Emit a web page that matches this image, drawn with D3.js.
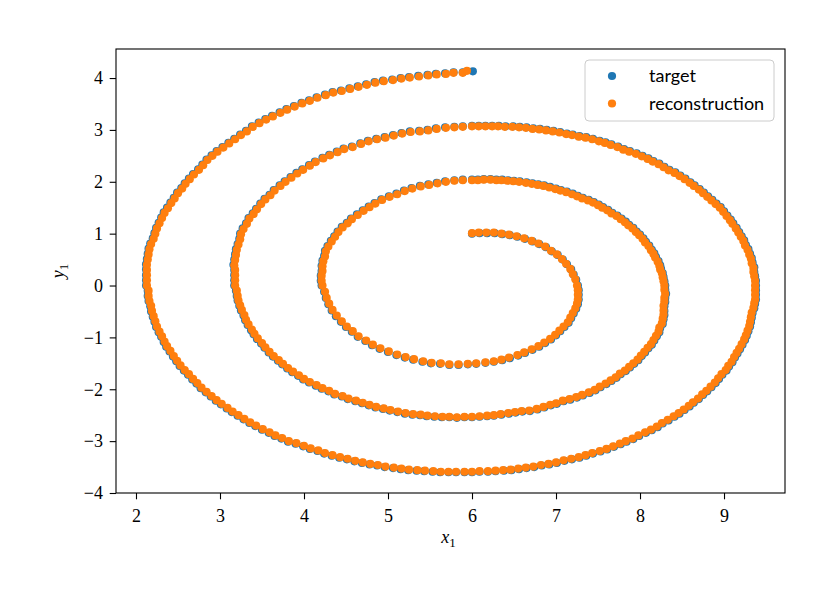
<!DOCTYPE html>
<html>
<head>
<meta charset="utf-8">
<script src="https://cdn.jsdelivr.net/npm/d3@7"></script>
<style>
  body { margin: 0; background: #fff; }
</style>
</head>
<body>
<div id="chart"></div>
<script>
const xTicks = [2, 3, 4, 5, 6, 7, 8, 9];
const yTicks = [-4, -3, -2, -1, 0, 1, 2, 3, 4];
const seriesNames = ["target", "reconstruction"];
const seriesColors = ["#1f77b4", "#ff7f0e"];
const xDomain = [1.762, 9.726];
const yDomain = [-4, 4.56];

// target trajectory, [x1, y1]
const target = [
  [6.00,1.00],[6.09,1.01],[6.18,1.01],[6.27,1.01],[6.36,0.99],[6.45,0.97],[6.54,0.94],[6.63,0.90],[6.72,0.85],[6.80,0.80],[6.88,0.74],[6.95,0.66],[7.02,0.59],[7.08,0.50],[7.13,0.41],[7.18,0.31],[7.21,0.21],[7.24,0.11],
  [7.26,0.00],[7.27,-0.09],[7.27,-0.18],[7.27,-0.27],[7.26,-0.36],[7.24,-0.45],[7.21,-0.54],[7.18,-0.63],[7.15,-0.72],[7.10,-0.80],[7.05,-0.88],[7.00,-0.96],[6.94,-1.04],[6.87,-1.11],[6.80,-1.18],[6.72,-1.24],[6.63,-1.30],[6.55,-1.35],[6.45,-1.40],[6.36,-1.44],[6.26,-1.47],[6.16,-1.49],[6.05,-1.51],
  [5.95,-1.52],[5.84,-1.53],[5.73,-1.53],[5.62,-1.51],[5.51,-1.50],[5.41,-1.47],[5.30,-1.43],[5.20,-1.39],[5.10,-1.34],[5.00,-1.28],[4.90,-1.22],[4.81,-1.15],[4.73,-1.07],[4.64,-0.99],[4.57,-0.89],[4.50,-0.80],[4.44,-0.70],[4.38,-0.59],[4.33,-0.48],[4.29,-0.36],[4.26,-0.24],[4.24,-0.12],
  [4.21,0.00],[4.20,0.09],[4.20,0.19],[4.21,0.28],[4.21,0.38],[4.22,0.48],[4.24,0.57],[4.25,0.67],[4.28,0.76],[4.32,0.86],[4.36,0.95],[4.40,1.04],[4.45,1.13],[4.51,1.21],[4.56,1.29],[4.63,1.37],[4.70,1.45],[4.77,1.52],[4.84,1.59],[4.92,1.66],[5.01,1.72],[5.10,1.77],[5.19,1.83],[5.28,1.88],[5.38,1.92],[5.48,1.95],[5.58,1.98],[5.68,2.01],[5.79,2.03],[5.89,2.04],
  [6.00,2.04],[6.07,2.04],[6.14,2.05],[6.22,2.05],[6.29,2.04],[6.36,2.04],[6.43,2.03],[6.50,2.02],[6.57,2.01],[6.65,1.99],[6.72,1.97],[6.79,1.95],[6.86,1.93],[6.93,1.90],[7.00,1.87],[7.06,1.84],[7.13,1.81],[7.20,1.77],[7.26,1.73],[7.32,1.69],[7.39,1.65],[7.45,1.61],[7.51,1.56],[7.56,1.51],[7.62,1.46],[7.67,1.40],[7.73,1.35],[7.78,1.29],[7.83,1.23],[7.87,1.17],[7.92,1.11],[7.96,1.04],[8.00,0.98],[8.04,0.91],[8.07,0.84],[8.11,0.77],[8.14,0.69],[8.17,0.62],[8.19,0.55],[8.22,0.47],[8.24,0.39],[8.25,0.32],[8.27,0.24],[8.28,0.16],[8.29,0.08],
  [8.30,0.00],[8.30,-0.08],[8.31,-0.16],[8.30,-0.24],[8.30,-0.32],[8.29,-0.40],[8.29,-0.49],[8.29,-0.57],[8.28,-0.65],[8.27,-0.74],[8.24,-0.82],[8.23,-0.90],[8.20,-0.98],[8.17,-1.06],[8.14,-1.14],[8.10,-1.21],[8.06,-1.29],[8.02,-1.36],[7.98,-1.44],[7.93,-1.51],[7.88,-1.58],[7.83,-1.65],[7.77,-1.71],[7.72,-1.78],[7.66,-1.84],[7.60,-1.90],[7.53,-1.96],[7.47,-2.02],[7.40,-2.07],[7.32,-2.12],[7.25,-2.16],[7.17,-2.20],[7.09,-2.23],[7.01,-2.28],[6.94,-2.31],[6.86,-2.35],[6.78,-2.39],[6.69,-2.42],[6.60,-2.43],[6.52,-2.45],[6.44,-2.47],[6.35,-2.49],[6.26,-2.51],[6.18,-2.52],[6.09,-2.53],
  [6.00,-2.54],[5.91,-2.54],[5.82,-2.55],[5.73,-2.54],[5.64,-2.54],[5.55,-2.53],[5.46,-2.52],[5.38,-2.50],[5.29,-2.49],[5.20,-2.47],[5.11,-2.44],[5.02,-2.41],[4.94,-2.38],[4.85,-2.35],[4.77,-2.31],[4.69,-2.27],[4.61,-2.23],[4.52,-2.19],[4.45,-2.14],[4.36,-2.10],[4.29,-2.04],[4.21,-1.99],[4.14,-1.93],[4.06,-1.87],[3.99,-1.81],[3.93,-1.74],[3.86,-1.67],[3.80,-1.60],[3.74,-1.52],[3.69,-1.45],[3.63,-1.37],[3.58,-1.29],[3.53,-1.20],[3.49,-1.12],[3.44,-1.03],[3.40,-0.94],[3.37,-0.86],[3.33,-0.76],[3.30,-0.67],[3.28,-0.58],[3.25,-0.48],[3.23,-0.39],[3.21,-0.29],[3.20,-0.20],[3.19,-0.10],
  [3.17,0.00],[3.17,0.10],[3.17,0.20],[3.17,0.30],[3.16,0.40],[3.17,0.50],[3.18,0.60],[3.19,0.70],[3.21,0.80],[3.23,0.90],[3.24,1.00],[3.27,1.10],[3.31,1.20],[3.34,1.30],[3.39,1.39],[3.43,1.48],[3.48,1.58],[3.53,1.67],[3.59,1.75],[3.64,1.84],[3.71,1.93],[3.77,2.01],[3.84,2.09],[3.91,2.17],[3.98,2.24],[4.06,2.32],[4.13,2.39],[4.22,2.46],[4.30,2.52],[4.39,2.58],[4.47,2.64],[4.57,2.68],[4.67,2.74],[4.76,2.79],[4.86,2.83],[4.96,2.86],[5.06,2.90],[5.16,2.94],[5.26,2.97],[5.37,2.98],[5.47,3.00],[5.57,3.03],[5.68,3.05],[5.79,3.06],[5.89,3.07],
  [6.00,3.08],[6.08,3.08],[6.16,3.08],[6.24,3.08],[6.32,3.08],[6.40,3.07],[6.49,3.07],[6.57,3.06],[6.65,3.05],[6.73,3.03],[6.81,3.02],[6.89,3.00],[6.97,2.98],[7.05,2.96],[7.13,2.93],[7.20,2.91],[7.28,2.88],[7.36,2.86],[7.44,2.83],[7.52,2.79],[7.59,2.76],[7.66,2.72],[7.74,2.68],[7.81,2.63],[7.88,2.59],[7.96,2.55],[8.03,2.50],[8.10,2.45],[8.16,2.40],[8.23,2.35],[8.29,2.29],[8.35,2.23],[8.42,2.18],[8.48,2.12],[8.54,2.06],[8.60,1.99],[8.65,1.93],[8.71,1.86],[8.76,1.79],[8.81,1.72],[8.86,1.65],[8.91,1.58],[8.96,1.51],[9.00,1.43],[9.04,1.35],[9.08,1.27],[9.11,1.20],[9.15,1.11],[9.18,1.03],[9.21,0.95],[9.24,0.87],[9.26,0.78],[9.29,0.70],[9.31,0.61],[9.33,0.53],[9.34,0.44],[9.36,0.35],[9.36,0.26],[9.37,0.18],[9.38,0.09],
  [9.38,0.00],[9.38,-0.09],[9.38,-0.18],[9.38,-0.27],[9.37,-0.35],[9.36,-0.44],[9.34,-0.53],[9.33,-0.62],[9.32,-0.71],[9.31,-0.79],[9.29,-0.88],[9.27,-0.97],[9.25,-1.05],[9.22,-1.14],[9.19,-1.23],[9.16,-1.31],[9.13,-1.39],[9.10,-1.48],[9.06,-1.56],[9.03,-1.64],[8.98,-1.72],[8.94,-1.80],[8.90,-1.88],[8.85,-1.96],[8.80,-2.04],[8.75,-2.11],[8.70,-2.19],[8.64,-2.26],[8.59,-2.33],[8.53,-2.40],[8.47,-2.47],[8.41,-2.53],[8.34,-2.60],[8.27,-2.66],[8.21,-2.73],[8.14,-2.79],[8.07,-2.84],[7.99,-2.90],[7.92,-2.96],[7.84,-3.01],[7.77,-3.06],[7.69,-3.11],[7.61,-3.16],[7.53,-3.20],[7.44,-3.24],[7.36,-3.28],[7.28,-3.32],[7.19,-3.35],[7.10,-3.38],[7.01,-3.42],[6.92,-3.45],[6.83,-3.47],[6.74,-3.50],[6.65,-3.52],[6.56,-3.54],[6.47,-3.56],[6.38,-3.57],[6.28,-3.58],[6.19,-3.59],[6.09,-3.59],
  [6.00,-3.60],[5.91,-3.60],[5.81,-3.60],[5.72,-3.60],[5.62,-3.60],[5.53,-3.59],[5.43,-3.58],[5.34,-3.57],[5.24,-3.56],[5.15,-3.54],[5.06,-3.52],[4.96,-3.50],[4.87,-3.47],[4.78,-3.45],[4.69,-3.42],[4.60,-3.39],[4.51,-3.35],[4.42,-3.32],[4.33,-3.28],[4.24,-3.24],[4.16,-3.19],[4.07,-3.15],[3.99,-3.10],[3.90,-3.05],[3.81,-3.01],[3.73,-2.95],[3.65,-2.90],[3.58,-2.84],[3.50,-2.78],[3.42,-2.71],[3.35,-2.65],[3.28,-2.58],[3.21,-2.51],[3.14,-2.44],[3.08,-2.37],[3.01,-2.29],[2.95,-2.22],[2.89,-2.14],[2.83,-2.06],[2.77,-1.98],[2.72,-1.89],[2.67,-1.81],[2.62,-1.72],[2.57,-1.64],[2.52,-1.55],[2.48,-1.46],[2.44,-1.37],[2.40,-1.27],[2.36,-1.18],[2.33,-1.09],[2.30,-0.99],[2.27,-0.90],[2.24,-0.80],[2.22,-0.70],[2.20,-0.60],[2.18,-0.50],[2.17,-0.40],[2.15,-0.30],[2.14,-0.20],[2.14,-0.10],
  [2.12,0.00],[2.12,0.10],[2.12,0.20],[2.12,0.31],[2.12,0.41],[2.13,0.51],[2.14,0.61],[2.15,0.71],[2.17,0.81],[2.20,0.91],[2.22,1.01],[2.24,1.11],[2.27,1.21],[2.30,1.31],[2.33,1.41],[2.37,1.50],[2.41,1.60],[2.45,1.69],[2.49,1.79],[2.54,1.88],[2.58,1.97],[2.63,2.06],[2.68,2.15],[2.74,2.24],[2.79,2.33],[2.84,2.43],[2.90,2.51],[2.96,2.59],[3.03,2.67],[3.10,2.75],[3.17,2.83],[3.24,2.91],[3.31,2.98],[3.38,3.07],[3.46,3.14],[3.54,3.21],[3.62,3.27],[3.71,3.34],[3.79,3.40],[3.88,3.46],[3.97,3.52],[4.06,3.57],[4.15,3.63],[4.25,3.68],[4.34,3.73],[4.44,3.76],[4.54,3.80],[4.64,3.84],[4.74,3.88],[4.84,3.92],[4.94,3.95],[5.05,3.97],[5.15,4.00],[5.25,4.02],[5.36,4.04],[5.47,4.06],[5.57,4.08],[5.68,4.09],[5.78,4.11],[5.89,4.11],[6.01,4.13]
];

// reconstruction, sits almost on top of the target
const reconstruction = [
  [6.00,1.01],[6.08,1.02],[6.17,1.02],[6.26,1.02],[6.35,1.00],[6.44,0.98],[6.53,0.95],[6.62,0.91],[6.71,0.86],[6.79,0.81],[6.87,0.75],[6.94,0.67],[7.01,0.60],[7.07,0.51],[7.12,0.42],[7.17,0.32],[7.20,0.22],[7.23,0.12],
  [7.25,0.00],[7.26,-0.09],[7.26,-0.18],[7.26,-0.27],[7.25,-0.35],[7.23,-0.44],[7.20,-0.53],[7.17,-0.62],[7.14,-0.71],[7.09,-0.79],[7.04,-0.87],[6.99,-0.95],[6.93,-1.03],[6.86,-1.10],[6.79,-1.17],[6.71,-1.23],[6.62,-1.29],[6.54,-1.34],[6.44,-1.39],[6.35,-1.43],[6.26,-1.46],[6.16,-1.48],[6.05,-1.50],
  [5.95,-1.51],[5.84,-1.52],[5.73,-1.52],[5.63,-1.50],[5.52,-1.49],[5.42,-1.46],[5.31,-1.42],[5.21,-1.38],[5.11,-1.33],[5.01,-1.27],[4.91,-1.21],[4.82,-1.14],[4.74,-1.06],[4.65,-0.98],[4.58,-0.88],[4.51,-0.79],[4.45,-0.69],[4.39,-0.58],[4.34,-0.47],[4.30,-0.35],[4.27,-0.24],[4.25,-0.12],
  [4.22,0.00],[4.21,0.09],[4.21,0.19],[4.22,0.28],[4.22,0.37],[4.23,0.47],[4.25,0.56],[4.26,0.66],[4.29,0.75],[4.33,0.85],[4.37,0.94],[4.41,1.03],[4.46,1.12],[4.52,1.20],[4.57,1.28],[4.64,1.36],[4.71,1.44],[4.78,1.51],[4.85,1.58],[4.93,1.65],[5.02,1.71],[5.11,1.76],[5.20,1.82],[5.29,1.87],[5.39,1.91],[5.49,1.94],[5.59,1.97],[5.69,2.00],[5.79,2.02],[5.89,2.03],
  [6.00,2.03],[6.07,2.03],[6.14,2.04],[6.22,2.04],[6.29,2.03],[6.35,2.03],[6.42,2.02],[6.49,2.01],[6.56,2.00],[6.64,1.98],[6.71,1.96],[6.78,1.94],[6.85,1.92],[6.92,1.89],[6.99,1.86],[7.05,1.83],[7.12,1.80],[7.19,1.76],[7.25,1.72],[7.31,1.68],[7.38,1.64],[7.44,1.60],[7.50,1.55],[7.55,1.50],[7.61,1.45],[7.66,1.39],[7.72,1.34],[7.77,1.28],[7.82,1.22],[7.86,1.16],[7.91,1.10],[7.95,1.03],[7.99,0.97],[8.03,0.90],[8.06,0.83],[8.10,0.76],[8.13,0.68],[8.16,0.61],[8.18,0.54],[8.21,0.46],[8.23,0.38],[8.24,0.31],[8.26,0.24],[8.27,0.16],[8.28,0.08],
  [8.29,0.00],[8.29,-0.08],[8.30,-0.16],[8.29,-0.24],[8.29,-0.31],[8.28,-0.39],[8.28,-0.48],[8.28,-0.56],[8.27,-0.64],[8.26,-0.73],[8.23,-0.81],[8.22,-0.89],[8.19,-0.97],[8.16,-1.05],[8.13,-1.13],[8.09,-1.20],[8.05,-1.28],[8.01,-1.35],[7.97,-1.43],[7.92,-1.50],[7.87,-1.57],[7.82,-1.64],[7.76,-1.70],[7.71,-1.77],[7.65,-1.83],[7.59,-1.89],[7.52,-1.95],[7.46,-2.01],[7.39,-2.06],[7.31,-2.11],[7.24,-2.15],[7.16,-2.19],[7.08,-2.22],[7.00,-2.27],[6.93,-2.30],[6.85,-2.34],[6.77,-2.38],[6.68,-2.41],[6.59,-2.42],[6.51,-2.44],[6.43,-2.46],[6.34,-2.48],[6.26,-2.50],[6.18,-2.51],[6.09,-2.52],
  [6.00,-2.53],[5.91,-2.53],[5.82,-2.54],[5.73,-2.53],[5.65,-2.53],[5.56,-2.52],[5.47,-2.51],[5.39,-2.49],[5.30,-2.48],[5.21,-2.46],[5.12,-2.43],[5.03,-2.40],[4.95,-2.37],[4.86,-2.34],[4.78,-2.30],[4.70,-2.26],[4.62,-2.22],[4.53,-2.18],[4.46,-2.13],[4.37,-2.09],[4.30,-2.03],[4.22,-1.98],[4.15,-1.92],[4.07,-1.86],[4.00,-1.80],[3.94,-1.73],[3.87,-1.66],[3.81,-1.59],[3.75,-1.51],[3.70,-1.44],[3.64,-1.36],[3.59,-1.28],[3.54,-1.19],[3.50,-1.11],[3.45,-1.02],[3.41,-0.93],[3.38,-0.85],[3.34,-0.75],[3.31,-0.66],[3.29,-0.57],[3.26,-0.47],[3.24,-0.38],[3.22,-0.29],[3.21,-0.20],[3.20,-0.10],
  [3.18,0.00],[3.18,0.10],[3.18,0.20],[3.18,0.30],[3.17,0.39],[3.18,0.49],[3.19,0.59],[3.20,0.69],[3.22,0.79],[3.24,0.89],[3.25,0.99],[3.28,1.09],[3.32,1.19],[3.35,1.29],[3.40,1.38],[3.44,1.47],[3.49,1.57],[3.54,1.66],[3.60,1.74],[3.65,1.83],[3.72,1.92],[3.78,2.00],[3.85,2.08],[3.92,2.16],[3.99,2.23],[4.07,2.31],[4.14,2.38],[4.23,2.45],[4.31,2.51],[4.40,2.57],[4.48,2.63],[4.58,2.67],[4.68,2.73],[4.77,2.78],[4.87,2.82],[4.97,2.85],[5.07,2.89],[5.17,2.93],[5.27,2.96],[5.38,2.97],[5.48,2.99],[5.58,3.02],[5.69,3.04],[5.79,3.05],[5.89,3.06],
  [6.00,3.07],[6.08,3.07],[6.16,3.07],[6.24,3.07],[6.31,3.07],[6.39,3.06],[6.48,3.06],[6.56,3.05],[6.64,3.04],[6.72,3.02],[6.80,3.01],[6.88,2.99],[6.96,2.97],[7.04,2.95],[7.12,2.92],[7.19,2.90],[7.27,2.87],[7.35,2.85],[7.43,2.82],[7.51,2.78],[7.58,2.75],[7.65,2.71],[7.73,2.67],[7.80,2.62],[7.87,2.58],[7.95,2.54],[8.02,2.49],[8.09,2.44],[8.15,2.39],[8.22,2.34],[8.28,2.28],[8.34,2.22],[8.41,2.17],[8.47,2.11],[8.53,2.05],[8.59,1.98],[8.64,1.92],[8.70,1.85],[8.75,1.78],[8.80,1.71],[8.85,1.64],[8.90,1.57],[8.95,1.50],[8.99,1.42],[9.03,1.34],[9.07,1.26],[9.10,1.19],[9.14,1.10],[9.17,1.02],[9.20,0.94],[9.23,0.86],[9.25,0.77],[9.28,0.69],[9.30,0.60],[9.32,0.52],[9.33,0.43],[9.35,0.34],[9.35,0.26],[9.36,0.18],[9.37,0.09],
  [9.37,0.00],[9.37,-0.09],[9.37,-0.18],[9.37,-0.27],[9.36,-0.34],[9.35,-0.43],[9.33,-0.52],[9.32,-0.61],[9.31,-0.70],[9.30,-0.78],[9.28,-0.87],[9.26,-0.96],[9.24,-1.04],[9.21,-1.13],[9.18,-1.22],[9.15,-1.30],[9.12,-1.38],[9.09,-1.47],[9.05,-1.55],[9.02,-1.63],[8.97,-1.71],[8.93,-1.79],[8.89,-1.87],[8.84,-1.95],[8.79,-2.03],[8.74,-2.10],[8.69,-2.18],[8.63,-2.25],[8.58,-2.32],[8.52,-2.39],[8.46,-2.46],[8.40,-2.52],[8.33,-2.59],[8.26,-2.65],[8.20,-2.72],[8.13,-2.78],[8.06,-2.83],[7.98,-2.89],[7.91,-2.95],[7.83,-3.00],[7.76,-3.05],[7.68,-3.10],[7.60,-3.15],[7.52,-3.19],[7.43,-3.23],[7.35,-3.27],[7.27,-3.31],[7.18,-3.34],[7.09,-3.37],[7.00,-3.41],[6.91,-3.44],[6.82,-3.46],[6.73,-3.49],[6.64,-3.51],[6.55,-3.53],[6.46,-3.55],[6.37,-3.56],[6.28,-3.57],[6.19,-3.58],[6.09,-3.58],
  [6.00,-3.59],[5.91,-3.59],[5.81,-3.59],[5.72,-3.59],[5.63,-3.59],[5.54,-3.58],[5.44,-3.57],[5.35,-3.56],[5.25,-3.55],[5.16,-3.53],[5.07,-3.51],[4.97,-3.49],[4.88,-3.46],[4.79,-3.44],[4.70,-3.41],[4.61,-3.38],[4.52,-3.34],[4.43,-3.31],[4.34,-3.27],[4.25,-3.23],[4.17,-3.18],[4.08,-3.14],[4.00,-3.09],[3.91,-3.04],[3.82,-3.00],[3.74,-2.94],[3.66,-2.89],[3.59,-2.83],[3.51,-2.77],[3.43,-2.70],[3.36,-2.64],[3.29,-2.57],[3.22,-2.50],[3.15,-2.43],[3.09,-2.36],[3.02,-2.28],[2.96,-2.21],[2.90,-2.13],[2.84,-2.05],[2.78,-1.97],[2.73,-1.88],[2.68,-1.80],[2.63,-1.71],[2.58,-1.63],[2.53,-1.54],[2.49,-1.45],[2.45,-1.36],[2.41,-1.26],[2.37,-1.17],[2.34,-1.08],[2.31,-0.98],[2.28,-0.89],[2.25,-0.79],[2.23,-0.69],[2.21,-0.59],[2.19,-0.49],[2.18,-0.39],[2.16,-0.30],[2.15,-0.20],[2.15,-0.10],
  [2.13,0.00],[2.13,0.10],[2.13,0.20],[2.13,0.30],[2.13,0.40],[2.14,0.50],[2.15,0.60],[2.16,0.70],[2.18,0.80],[2.21,0.90],[2.23,1.00],[2.25,1.10],[2.28,1.20],[2.31,1.30],[2.34,1.40],[2.38,1.49],[2.42,1.59],[2.46,1.68],[2.50,1.78],[2.55,1.87],[2.59,1.96],[2.64,2.05],[2.69,2.14],[2.75,2.23],[2.80,2.32],[2.85,2.42],[2.91,2.50],[2.97,2.58],[3.04,2.66],[3.11,2.74],[3.18,2.82],[3.25,2.90],[3.32,2.97],[3.39,3.06],[3.47,3.13],[3.55,3.20],[3.63,3.26],[3.72,3.33],[3.80,3.39],[3.89,3.45],[3.98,3.51],[4.07,3.56],[4.16,3.62],[4.26,3.67],[4.35,3.72],[4.45,3.75],[4.55,3.79],[4.65,3.83],[4.75,3.87],[4.85,3.91],[4.95,3.94],[5.06,3.96],[5.16,3.99],[5.26,4.01],[5.37,4.03],[5.48,4.05],[5.58,4.07],[5.69,4.08],[5.78,4.10],[5.89,4.10],[5.94,4.14]
];

const series = [target, reconstruction];

const margin = {top: 49, right: 50, bottom: 108, left: 116},
  width = 835 - margin.left - margin.right,
  height = 601 - margin.top - margin.bottom;

const svg = d3.select("#chart")
  .append("svg")
  .attr("width", width + margin.left + margin.right)
  .attr("height", height + margin.top + margin.bottom)
  .style("background", "#fff")
  .append("g")
  .attr("transform", "translate(" + margin.left + "," + margin.top + ")");

const x = d3.scaleLinear().domain(xDomain).range([0, width]);
const y = d3.scaleLinear().domain(yDomain).range([height, 0]);

// points, target first so reconstruction lands on top
series.forEach((pts, i) => {
  svg.append("g")
    .selectAll("circle")
    .data(pts)
    .join("circle")
    .attr("cx", d => x(d[0]))
    .attr("cy", d => y(d[1]))
    .attr("r", 4.1)
    .attr("fill", seriesColors[i]);
});

// axes
const xAxis = svg.append("g")
  .attr("transform", "translate(0," + height + ")")
  .call(d3.axisBottom(x).tickValues(xTicks).tickSize(6.3).tickFormat(d3.format("d")));

const yAxis = svg.append("g")
  .call(d3.axisLeft(y).tickValues(yTicks).tickSize(6.3).tickFormat(d3.format("d")));

[xAxis, yAxis].forEach(g => {
  g.select(".domain").remove();
  g.selectAll(".tick line").attr("stroke", "#000").attr("stroke-width", 1.1);
  g.selectAll(".tick text")
    .attr("fill", "#000")
    .style("font-family", "'Liberation Serif', serif")
    .style("font-size", "18px");
});
xAxis.selectAll(".tick text").attr("y", 29).attr("dy", 0);
yAxis.selectAll(".tick text").attr("x", -13).attr("dy", "0.32em");

// frame
svg.append("rect")
  .attr("width", width)
  .attr("height", height)
  .attr("fill", "none")
  .attr("stroke", "#000")
  .attr("stroke-width", 1.1);

// axis titles
const xt = svg.append("text")
  .attr("x", width / 2 - 2)
  .attr("y", 494)
  .attr("text-anchor", "middle")
  .style("font-family", "'Liberation Serif', serif")
  .style("font-size", "18px");
xt.append("tspan").style("font-style", "italic").text("x");
xt.append("tspan").attr("dy", 4).style("font-size", "13px").text("1");

const yt = svg.append("text")
  .attr("transform", "translate(" + (64 - margin.left) + "," + (height / 2) + ") rotate(-90)")
  .attr("text-anchor", "middle")
  .style("font-family", "'Liberation Serif', serif")
  .style("font-size", "18px");
yt.append("tspan").style("font-style", "italic").text("y");
yt.append("tspan").attr("dy", 4).style("font-size", "13px").text("1");

// legend
const legend = svg.append("g")
  .attr("transform", "translate(" + (585 - margin.left) + "," + (60 - margin.top) + ")");

legend.append("rect")
  .attr("width", 189)
  .attr("height", 61)
  .attr("rx", 4)
  .attr("fill", "#fff")
  .attr("fill-opacity", 0.8)
  .attr("stroke", "#cccccc")
  .attr("stroke-width", 1);

seriesNames.forEach((name, i) => {
  legend.append("circle")
    .attr("cx", 27)
    .attr("cy", 16 + i * 27.5)
    .attr("r", 4.1)
    .attr("fill", seriesColors[i]);
  legend.append("text")
    .attr("x", 64)
    .attr("y", 22 + i * 27.5)
    .style("font-family", "Lato, sans-serif")
    .style("font-size", "18px")
    .attr("fill", "#000")
    .text(name);
});
</script>
</body>
</html>
